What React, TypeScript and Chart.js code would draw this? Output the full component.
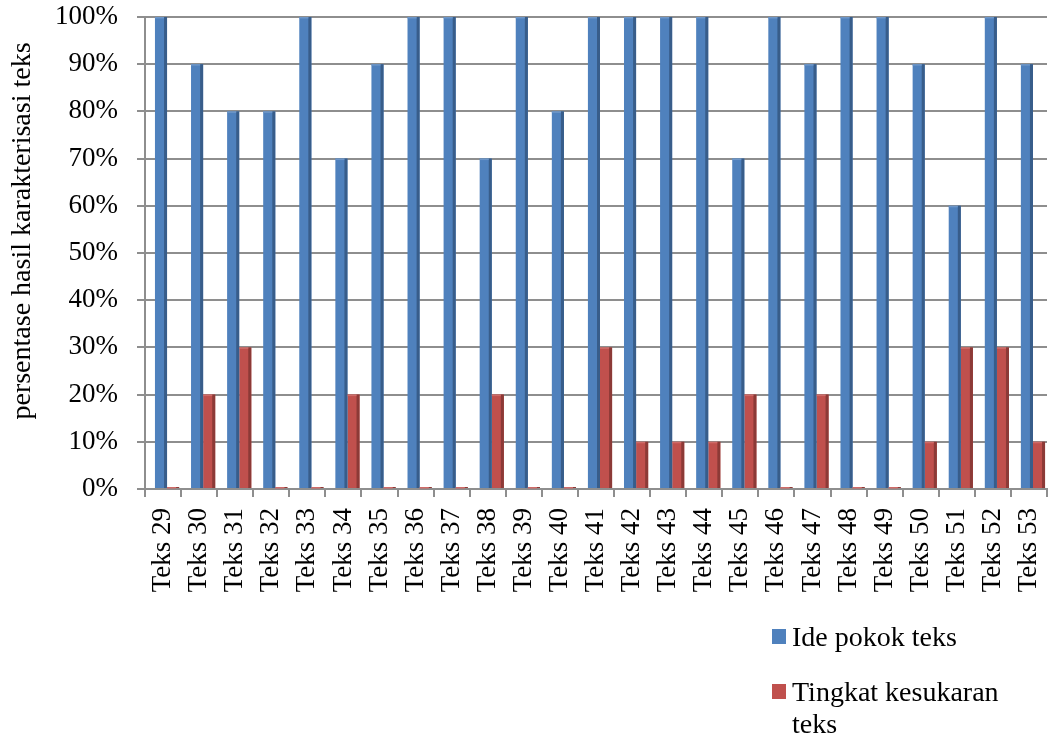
import React, { useEffect, useRef } from "react";
import { Chart, registerables } from "chart.js";

Chart.register(...registerables);

const categories = [
  "Teks 29", "Teks 30", "Teks 31", "Teks 32", "Teks 33", "Teks 34", "Teks 35",
  "Teks 36", "Teks 37", "Teks 38", "Teks 39", "Teks 40", "Teks 41", "Teks 42",
  "Teks 43", "Teks 44", "Teks 45", "Teks 46", "Teks 47", "Teks 48", "Teks 49",
  "Teks 50", "Teks 51", "Teks 52", "Teks 53",
];
const idePokok = [100, 90, 80, 80, 100, 70, 90, 100, 100, 70, 100, 80, 100, 100, 100, 100, 70, 100, 90, 100, 100, 90, 60, 100, 90];
const tingkatKesukaran = [0, 20, 30, 0, 0, 20, 0, 0, 0, 20, 0, 0, 30, 10, 10, 10, 20, 0, 20, 0, 0, 10, 30, 30, 10];
const seriesNames = ["Ide pokok teks", "Tingkat kesukaran teks"];
const yTitle = "persentase hasil karakterisasi teks";

const BLUE = "#4f81bd";
const RED = "#c0504d";
const BLUE_SIDE = "#385d8a";
const RED_SIDE = "#8c3a37";
const BLUE_TOP = "#6d96c8";
const RED_TOP = "#cf6b68";

const FONT = "'Liberation Serif', 'Times New Roman', serif";
const DEPTH_SHIFT = 4; // 3D perspective offset of the bars

const bar3d = {
  id: "bar3d",
  beforeDatasetsDraw(chart: any) {
    chart.ctx.save();
    chart.ctx.translate(DEPTH_SHIFT, 0);
  },
  afterDatasetsDraw(chart: any) {
    const ctx = chart.ctx;
    const sides = [BLUE_SIDE, RED_SIDE];
    const tops = [BLUE_TOP, RED_TOP];
    chart.data.datasets.forEach((_: any, di: number) => {
      const meta = chart.getDatasetMeta(di);
      meta.data.forEach((el: any) => {
        const { x, y, base, width } = el.getProps(["x", "y", "base", "width"], true);
        const left = x - width / 2;
        const right = x + width / 2;
        const sw = 3;
        ctx.fillStyle = sides[di];
        ctx.fillRect(right - sw, y, sw, base - y);
        ctx.fillStyle = tops[di];
        ctx.fillRect(left, y, width - sw, 1.5);
      });
    });
    ctx.restore();
  },
};

const extras = {
  id: "extras",
  afterDraw(chart: any) {
    const ctx = chart.ctx;
    ctx.save();
    // y-axis title
    ctx.translate(23, 231);
    ctx.rotate(-Math.PI / 2);
    ctx.fillStyle = "#000";
    ctx.font = `28px ${FONT}`;
    ctx.textAlign = "center";
    ctx.textBaseline = "middle";
    ctx.fillText(yTitle, 0, 0);
    ctx.restore();

    // legend
    ctx.save();
    ctx.font = `28px ${FONT}`;
    ctx.textBaseline = "alphabetic";
    ctx.textAlign = "left";
    const colors = [BLUE, RED];
    const lines = [[seriesNames[0]], ["Tingkat kesukaran", "teks"]];
    const tops = [629, 684];
    lines.forEach((ls, i) => {
      ctx.fillStyle = colors[i];
      ctx.fillRect(772, tops[i], 14, 15);
      ctx.fillStyle = "#000";
      ls.forEach((t, j) => {
        ctx.fillText(t, 792, tops[i] + 17 + j * 32);
      });
    });
    ctx.restore();
  },
};

export default function App() {
  const ref = useRef<HTMLCanvasElement>(null);
  useEffect(() => {
    if (!ref.current) return;
    const chart = new Chart(ref.current, {
      type: "bar",
      data: {
        labels: categories,
        datasets: [
          {
            label: seriesNames[0],
            data: idePokok,
            backgroundColor: BLUE,
            borderWidth: 0,
            categoryPercentage: 0.67,
            barPercentage: 1.0,
            minBarLength: 2,
          },
          {
            label: seriesNames[1],
            data: tingkatKesukaran,
            backgroundColor: RED,
            borderWidth: 0,
            categoryPercentage: 0.67,
            barPercentage: 1.0,
            minBarLength: 2,
          },
        ],
      },
      options: {
        responsive: false,
        animation: false,
        layout: { padding: { top: 17, right: 5, left: 0, bottom: 0 } },
        plugins: {
          legend: { display: false },
          tooltip: { enabled: false },
        },
        scales: {
          x: {
            grid: {
              offset: true,
              drawOnChartArea: false,
              drawTicks: true,
              tickLength: 8,
              color: "#8e8e8e",
              lineWidth: 2,
            },
            border: { display: true, color: "#8e8e8e", width: 2 },
            ticks: {
              font: { family: FONT, size: 27 },
              color: "#000",
              minRotation: 90,
              maxRotation: 90,
              padding: 11,
              autoSkip: false,
            },
            afterFit(scale: any) {
              scale.height = 248;
              scale.paddingLeft = 0;
              scale.paddingRight = 0;
              scale.paddingTop = 0;
              scale.paddingBottom = 0;
            },
          },
          y: {
            min: 0,
            max: 100,
            ticks: {
              stepSize: 10,
              font: { family: FONT, size: 27 },
              color: "#000",
              padding: 19,
              callback: (v: any) => `${v}%`,
            },
            grid: {
              color: "#8e8e8e",
              lineWidth: 2,
              tickLength: 8,
            },
            border: { display: true, color: "#8e8e8e", width: 2 },
            afterFit(scale: any) {
              scale.width = 145;
              scale.paddingLeft = 0;
              scale.paddingRight = 0;
              scale.paddingTop = 0;
              scale.paddingBottom = 0;
            },
          },
        },
      },
      plugins: [bar3d, extras],
    });
    return () => chart.destroy();
  }, []);
  return (
    <div style={{ position: "fixed", left: 0, top: 0, width: 1052, height: 737, background: "#fff" }}>
      <canvas ref={ref} width={1052} height={737} />
    </div>
  );
}
